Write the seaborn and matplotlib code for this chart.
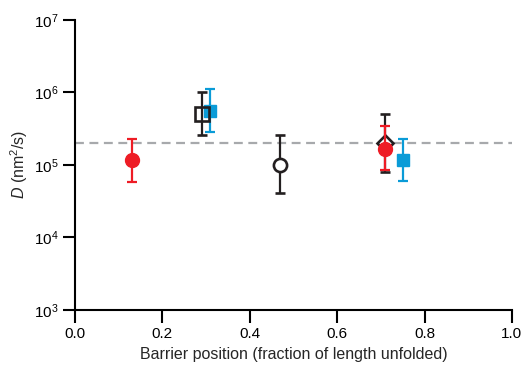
import numpy as np
import matplotlib
matplotlib.use('Agg')
import matplotlib.pyplot as plt
import seaborn as sns

# Data (D in nm^2/s)
red_x = [0.13, 0.71]
red_y = [1.15e5, 1.68e5]
red_lo = [5.8e4, 8.5e4]
red_hi = [2.3e5, 3.4e5]

blue_x = [0.31, 0.75]
blue_y = [5.6e5, 1.16e5]
blue_lo = [2.8e5, 5.9e4]
blue_hi = [1.13e6, 2.3e5]

sq_x = [0.29]
sq_y = [5.0e5]
sq_lo = [2.6e5]
sq_hi = [1.0e6]

circ_x = [0.47]
circ_y = [1.0e5]
circ_lo = [4.1e4]
circ_hi = [2.6e5]

dia_x = [0.71]
dia_y = [2.0e5]
dia_lo = [8.0e4]
dia_hi = [5.1e5]

d_ref = 2.0e5

CLR_RED = '#EE1C25'
CLR_BLUE = '#0A9BD7'
CLR_BLK = '#231F20'

sns.set_theme(style='ticks')
plt.rcParams['font.family'] = ['Liberation Sans', 'DejaVu Sans']
plt.rcParams['mathtext.fontset'] = 'custom'
plt.rcParams['mathtext.rm'] = 'Liberation Sans'
plt.rcParams['mathtext.it'] = 'Liberation Sans:italic'

fig = plt.figure(figsize=(5.25, 3.68), dpi=100)
ax = fig.add_axes([0.143, 0.158, 0.832, 0.788])


def err(y, lo, hi):
    y = np.array(y)
    return [y - np.array(lo), np.array(hi) - y]


ax.axhline(d_ref, color='#A7A9AC', linestyle=(0, (4, 2.5)), linewidth=1.6, zorder=1)

kw = dict(linestyle='none', elinewidth=1.6, capsize=3.8, capthick=1.6)

ax.errorbar(blue_x, blue_y, yerr=err(blue_y, blue_lo, blue_hi), fmt='s',
            color=CLR_BLUE, markersize=9, zorder=3, **kw)
ax.errorbar(sq_x, sq_y, yerr=err(sq_y, sq_lo, sq_hi), fmt='s',
            color=CLR_BLK, markerfacecolor='none', markeredgewidth=1.9,
            markersize=9.5, zorder=4, **kw)
ax.errorbar(circ_x, circ_y, yerr=err(circ_y, circ_lo, circ_hi), fmt='o',
            color=CLR_BLK, markerfacecolor='white', markeredgewidth=1.9,
            markersize=9.5, zorder=3, **kw)
ax.errorbar(dia_x, dia_y, yerr=err(dia_y, dia_lo, dia_hi), fmt='D',
            color=CLR_BLK, markerfacecolor='white', markeredgewidth=1.9,
            markersize=8.5, zorder=3, **kw)
ax.errorbar(red_x, red_y, yerr=err(red_y, red_lo, red_hi), fmt='o',
            color=CLR_RED, markersize=10, zorder=5, **kw)

ax.set_yscale('log')
ax.set_ylim(1e3, 1e7)
ax.set_xlim(0, 1.0)
ax.set_xticks([0.0, 0.2, 0.4, 0.6, 0.8, 1.0])
ax.set_xticklabels(['0.0', '0.2', '0.4', '0.6', '0.8', '1.0'])
ax.set_yticks([1e3, 1e4, 1e5, 1e6, 1e7])
ax.set_yticklabels([r'10$^{3}$', r'10$^{4}$', r'10$^{5}$', r'10$^{6}$', r'10$^{7}$'])
ax.yaxis.set_minor_locator(matplotlib.ticker.NullLocator())

ax.set_xlabel('Barrier position (fraction of length unfolded)', fontsize=11.5, labelpad=5)
ax.set_ylabel(r'$D$ (nm$^2$/s)', fontsize=11.5, labelpad=3)

sns.despine(ax=ax)
for side in ['left', 'bottom']:
    ax.spines[side].set_linewidth(1.5)
    ax.spines[side].set_color('black')
ax.tick_params(axis='both', direction='out', length=9, width=1.5, labelsize=11,
               colors='black', pad=3)
ax.set_facecolor('white')
fig.patch.set_facecolor('white')

fig.savefig('out.png', dpi=100)
